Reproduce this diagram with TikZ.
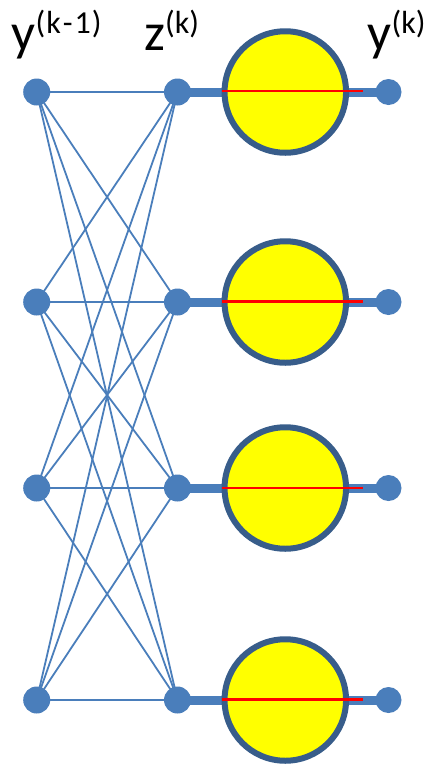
\documentclass[tikz,border=0pt]{standalone}
\usepackage{fontspec}
\setmainfont{Carlito}
\definecolor{dotblue}{HTML}{4A7EBB}
\definecolor{ringblue}{HTML}{385D8A}
\definecolor{hotred}{HTML}{FF0000}
\definecolor{sunyellow}{HTML}{FFFF00}
\newcommand{\supk}[1]{{\fontsize{32}{32}\selectfont\raisebox{17pt}{#1}}}
\begin{document}
\begin{tikzpicture}[x=1pt,y=-1pt,
  dot/.style={circle,fill=dotblue,draw=none,minimum size=27pt,inner sep=0pt},
  neuron/.style={circle,fill=sunyellow,draw=ringblue,line width=6pt,minimum size=121.5pt,inner sep=0pt},
  thinedge/.style={draw=dotblue,line width=1.8pt},
  thickedge/.style={draw=dotblue,line width=9pt},
  redline/.style={draw=hotred,line width=2.2pt},
  lbl/.style={anchor=base west,inner sep=0pt,font=\fontsize{53}{53}\selectfont}]
\useasboundingbox (0,0) rectangle (430,764);
\foreach \i/\yy in {1/92,2/302,3/488,4/700}{
  \coordinate (L\i) at (36.7,\yy);
  \coordinate (M\i) at (177.5,\yy);
  \coordinate (R\i) at (388.5,\yy);
  \coordinate (C\i) at (285.3,\yy);
}
% thin connections
\foreach \i in {1,2,3,4}{
  \foreach \j in {1,2,3,4}{
    \draw[thinedge] (L\i) -- (M\j);
  }
}
% thick connections
\foreach \i in {1,2,3,4}{
  \draw[thickedge] (M\i) -- (R\i);
}
\foreach \i in {1,2,3,4}{
  \node[neuron] (n\i) at (C\i) {};
}
\foreach \i/\yy in {1/91,2/301.5,3/488,4/699.5}{
  \coordinate (rs\i) at (222,\yy);
  \coordinate (rf\i) at (362.5,\yy);
  \draw[redline] (rs\i) -- (rf\i);
}
\foreach \i in {1,2,3,4}{
  \node[dot] (l\i) at (L\i) {};
  \node[dot] (m\i) at (M\i) {};
  \node[dot,minimum size=26pt] (r\i) at (R\i) {};
}
\node[lbl] (t1) at (11.5,50) {y\supk{(\kern1pt k\kern2pt-\kern2pt1\kern1pt)}};
\node[lbl] (t2) at (144,50) {z\supk{(k)}};
\node[lbl] (t3) at (367.5,50) {y\supk{(k)}};
\end{tikzpicture}
\end{document}
